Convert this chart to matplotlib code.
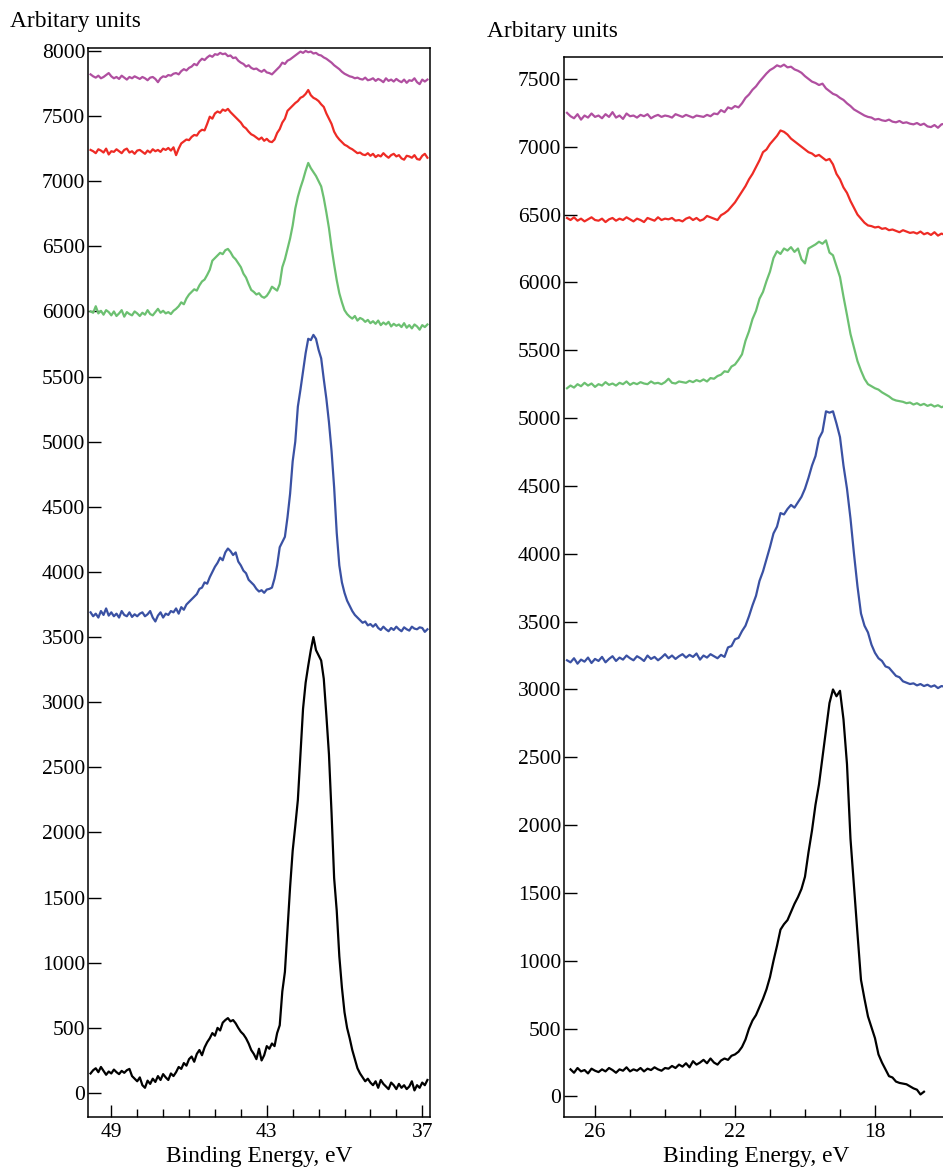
#!/usr/bin/env python
"""
XPS valence-band spectra, two energy windows, stacked samples.
"""

import numpy as np
import matplotlib.pyplot as plt

plt.rcParams["font.family"] = ["Liberation Serif", "DejaVu Serif"]
plt.rcParams["font.size"] = 15.5
label_size = 16.8

# colours of the stacked spectra (top to bottom)
colors = {"magenta": "#b04fa0", "red": "#ee2b25", "green": "#6cc071",
          "blue": "#3a51a3", "black": "#000000"}

# ---- left window: 49.8 .. 36.8 eV, step 0.1 eV ----
energy_left = np.round(np.linspace(49.8, 36.8, 131), 2)

magenta_left = [
    7820, 7805, 7795, 7810, 7790, 7800, 7815, 7830, 7805,
    7790, 7800, 7785, 7810, 7795, 7780, 7800, 7790, 7805, 7795,
    7785, 7800, 7790, 7775, 7795, 7800, 7785, 7760, 7790, 7805,
    7800, 7815, 7810, 7825, 7830, 7820, 7845, 7860, 7850, 7870,
    7880, 7900, 7890, 7920, 7940, 7930, 7950, 7965, 7955, 7975,
    7970, 7985, 7975, 7980, 7960, 7965, 7945, 7950, 7925, 7910,
    7900, 7880, 7890, 7870, 7860, 7865, 7850, 7840, 7855, 7835,
    7830, 7820, 7840, 7860, 7880, 7910, 7900, 7925, 7935, 7950,
    7965, 7980, 7995, 7985, 8000, 7990, 7995, 7980, 7985, 7970,
    7965, 7950, 7940, 7925, 7910, 7890, 7875, 7860, 7840, 7825,
    7815, 7805, 7800, 7790, 7795, 7785, 7780, 7795, 7775, 7780,
    7790, 7770, 7785, 7775, 7760, 7790, 7770, 7780, 7765, 7785,
    7770, 7760, 7780, 7755, 7775, 7770, 7790, 7760, 7745, 7780,
    7765, 7780]

red_left = [
    7240, 7230, 7215, 7245, 7235, 7220, 7250, 7205, 7230,
    7225, 7245, 7230, 7215, 7240, 7250, 7220, 7230, 7210, 7235,
    7240, 7225, 7210, 7235, 7220, 7245, 7230, 7240, 7225, 7250,
    7240, 7255, 7235, 7260, 7200, 7250, 7290, 7305, 7320, 7315,
    7340, 7355, 7350, 7380, 7395, 7390, 7440, 7495, 7480, 7520,
    7535, 7525, 7550, 7540, 7555, 7530, 7510, 7490, 7470, 7450,
    7420, 7405, 7380, 7360, 7350, 7335, 7320, 7335, 7310, 7325,
    7305, 7300, 7320, 7370, 7400, 7450, 7480, 7540, 7560, 7580,
    7600, 7615, 7640, 7650, 7670, 7700, 7660, 7640, 7630, 7615,
    7590, 7570, 7520, 7480, 7440, 7380, 7345, 7320, 7300, 7280,
    7270, 7255, 7245, 7230, 7215, 7220, 7205, 7200, 7215, 7195,
    7210, 7185, 7200, 7190, 7215, 7195, 7180, 7200, 7210, 7190,
    7200, 7175, 7165, 7195, 7190, 7180, 7200, 7170, 7165, 7195,
    7210, 7180]

green_left = [
    6000, 5990, 6040, 5985, 6005, 5975, 6010, 5995, 5970,
    6000, 5965, 5985, 6010, 5960, 5995, 5980, 5970, 6000, 5985,
    5965, 5990, 5975, 6010, 5980, 5970, 5995, 6020, 5990, 6005,
    5985, 5995, 5980, 6005, 6020, 6040, 6070, 6055, 6100, 6130,
    6150, 6170, 6160, 6200, 6230, 6245, 6280, 6320, 6390, 6410,
    6430, 6450, 6440, 6470, 6480, 6455, 6420, 6400, 6370, 6340,
    6290, 6260, 6210, 6165, 6150, 6130, 6140, 6115, 6105, 6120,
    6150, 6190, 6175, 6160, 6210, 6340, 6400, 6480, 6560, 6660,
    6790, 6880, 6950, 7010, 7080, 7140, 7100, 7070, 7040, 7000,
    6960, 6870, 6760, 6640, 6490, 6360, 6240, 6140, 6070, 6010,
    5980, 5960, 5945, 5965, 5930, 5950, 5940, 5920, 5935, 5910,
    5925, 5905, 5930, 5895, 5915, 5900, 5920, 5885, 5905, 5890,
    5900, 5880, 5910, 5875, 5895, 5870, 5900, 5885, 5860, 5895,
    5880, 5900]

blue_left = [
    3690, 3660, 3680, 3650, 3700, 3670, 3720, 3665, 3690,
    3660, 3680, 3650, 3700, 3670, 3660, 3690, 3655, 3675, 3660,
    3680, 3690, 3660, 3675, 3700, 3650, 3620, 3665, 3690, 3650,
    3680, 3670, 3700, 3690, 3720, 3680, 3730, 3710, 3750, 3770,
    3790, 3810, 3830, 3870, 3880, 3920, 3910, 3960, 4000, 4040,
    4070, 4110, 4090, 4150, 4180, 4160, 4130, 4150, 4080, 4050,
    4010, 3990, 3940, 3920, 3900, 3870, 3850, 3860, 3840, 3865,
    3870, 3880, 3950, 4050, 4190, 4230, 4270, 4420, 4600, 4850,
    5000, 5270, 5400, 5540, 5680, 5790, 5780, 5820, 5790, 5705,
    5640, 5480, 5330, 5150, 4930, 4650, 4300, 4050, 3920, 3840,
    3780, 3740, 3700, 3670, 3650, 3630, 3610, 3620, 3590, 3600,
    3580, 3600, 3570, 3555, 3580, 3560, 3545, 3570, 3555, 3580,
    3560, 3545, 3575, 3560, 3550, 3580, 3565, 3560, 3575, 3570,
    3540, 3560]

black_left = [
    150, 175, 190, 160, 200, 170, 140, 165, 150,
    180, 160, 145, 170, 155, 175, 185, 130, 110, 90,
    120, 60, 40, 95, 70, 110, 85, 130, 100, 145,
    120, 100, 150, 130, 160, 200, 185, 230, 210, 260,
    280, 240, 300, 330, 290, 350, 390, 420, 460, 440,
    500, 480, 540, 560, 575, 550, 560, 535, 500, 470,
    450, 420, 380, 330, 300, 260, 340, 250, 290, 360,
    340, 380, 360, 460, 520, 780, 930, 1250, 1580, 1860,
    2050, 2250, 2600, 2950, 3150, 3280, 3400, 3500, 3400, 3360,
    3320, 3180, 2900, 2600, 2150, 1650, 1400, 1050, 810, 620,
    500, 420, 330, 260, 190, 150, 120, 90, 110, 80,
    60, 90, 40, 100, 70, 50, 30, 80, 60, 30,
    70, 40, 60, 30, 50, 90, 20, 60, 40, 80,
    60, 100]

# ---- right window: 26.8 .. 16.0 eV, step 0.1 eV ----
energy_right = np.round(np.linspace(26.8, 16.0, 109), 2)

magenta_right = [
    7250, 7225, 7210, 7240, 7200, 7230, 7215, 7245, 7220,
    7230, 7210, 7240, 7220, 7255, 7215, 7230, 7205, 7245, 7225,
    7230, 7215, 7235, 7225, 7240, 7210, 7225, 7235, 7220, 7230,
    7225, 7215, 7240, 7230, 7220, 7235, 7225, 7215, 7230, 7225,
    7220, 7235, 7225, 7245, 7240, 7270, 7255, 7290, 7280, 7300,
    7290, 7320, 7360, 7385, 7420, 7445, 7480, 7510, 7540, 7565,
    7580, 7600, 7590, 7605, 7585, 7590, 7570, 7560, 7545, 7520,
    7500, 7480, 7470, 7455, 7465, 7430, 7410, 7390, 7380, 7360,
    7345, 7320, 7300, 7275, 7260, 7245, 7230, 7220, 7215, 7200,
    7205, 7195, 7190, 7200, 7185, 7180, 7190, 7175, 7180, 7170,
    7165, 7175, 7160, 7170, 7150, 7145, 7160, 7140, 7165, 7170]

red_right = [
    6475, 6460, 6480, 6455, 6470, 6450, 6465, 6480, 6460,
    6455, 6470, 6445, 6465, 6475, 6455, 6470, 6460, 6480, 6465,
    6450, 6470, 6460, 6445, 6475, 6465, 6455, 6480, 6460, 6470,
    6465, 6475, 6455, 6460, 6450, 6470, 6480, 6460, 6475, 6455,
    6465, 6490, 6480, 6470, 6460, 6495, 6510, 6530, 6560, 6590,
    6630, 6670, 6710, 6760, 6800, 6850, 6900, 6960, 6980, 7020,
    7050, 7080, 7120, 7110, 7090, 7060, 7040, 7020, 7000, 6980,
    6960, 6950, 6930, 6940, 6920, 6900, 6910, 6870, 6800, 6760,
    6700, 6660, 6600, 6550, 6500, 6470, 6440, 6420, 6415, 6405,
    6410, 6395, 6400, 6385, 6390, 6380, 6370, 6385, 6375, 6365,
    6370, 6360, 6375, 6355, 6365, 6350, 6370, 6345, 6360, 6350]

green_right = [
    5220, 5240, 5225, 5250, 5235, 5260, 5240, 5255, 5230,
    5250, 5240, 5265, 5245, 5255, 5240, 5260, 5250, 5270, 5245,
    5260, 5250, 5265, 5255, 5250, 5270, 5255, 5260, 5250, 5265,
    5290, 5260, 5255, 5270, 5265, 5260, 5275, 5265, 5280, 5270,
    5285, 5270, 5295, 5290, 5310, 5320, 5345, 5340, 5380, 5395,
    5430, 5470, 5570, 5640, 5730, 5790, 5880, 5930, 6010, 6080,
    6180, 6230, 6210, 6250, 6235, 6260, 6225, 6250, 6170, 6140,
    6250, 6265, 6280, 6300, 6285, 6310, 6220, 6200, 6120, 6040,
    5895, 5760, 5620, 5520, 5420, 5350, 5290, 5250, 5235, 5220,
    5210, 5190, 5175, 5160, 5140, 5130, 5125, 5120, 5110, 5115,
    5100, 5110, 5095, 5105, 5090, 5100, 5085, 5095, 5080, 5090]

blue_right = [
    3215, 3200, 3230, 3190, 3220, 3205, 3235, 3195, 3225,
    3210, 3240, 3200, 3225, 3245, 3210, 3235, 3220, 3250, 3230,
    3215, 3245, 3230, 3210, 3250, 3225, 3240, 3215, 3235, 3260,
    3230, 3250, 3225, 3245, 3260, 3235, 3255, 3240, 3265, 3220,
    3250, 3235, 3260, 3245, 3230, 3255, 3240, 3310, 3320, 3370,
    3380, 3430, 3470, 3540, 3620, 3690, 3800, 3870, 3960, 4050,
    4150, 4200, 4300, 4290, 4330, 4360, 4340, 4380, 4420, 4480,
    4560, 4650, 4720, 4850, 4900, 5050, 5040, 5050, 4960, 4860,
    4650, 4480, 4260, 4000, 3760, 3560, 3470, 3420, 3330, 3270,
    3230, 3210, 3170, 3160, 3130, 3100, 3090, 3060, 3050, 3040,
    3045, 3030, 3040, 3025, 3035, 3020, 3030, 3010, 3025, 3020]

# black spectrum stops early: 26.7 .. 16.6 eV
energy_right_black = np.round(np.linspace(26.7, 16.6, 102), 2)
black_right = [
    200, 175, 210, 185, 195, 170, 205, 190,
    180, 200, 185, 210, 195, 175, 200, 190, 215, 185,
    200, 190, 210, 185, 205, 195, 215, 200, 190, 210,
    205, 225, 210, 235, 220, 245, 215, 260, 235, 250,
    270, 245, 280, 250, 235, 265, 280, 270, 300, 310,
    330, 365, 420, 500, 560, 600, 660, 720, 790, 880,
    1000, 1110, 1230, 1270, 1300, 1360, 1420, 1470, 1530, 1620,
    1800, 1960, 2150, 2300, 2500, 2700, 2900, 3000, 2950, 2990,
    2780, 2450, 1900, 1550, 1200, 860, 720, 590, 510, 430,
    310, 250, 200, 150, 140, 110, 100, 95, 90, 75,
    60, 50, 15, 35]


def style_axes(ax, major, minor, xlim, ylim):
    ax.xaxis.set_ticks(major)
    ax.xaxis.set_ticks(minor, minor=True)
    ax.yaxis.set_ticks(np.arange(0, 8001, 500))
    # set_ticks may widen the view, so the limits go last
    ax.set_xlim(*xlim)
    ax.set_ylim(*ylim)
    ax.tick_params(axis="x", which="major", direction="in", length=9,
                   width=1.0, pad=4, top=False)
    ax.tick_params(axis="x", which="minor", direction="in", length=6,
                   width=1.0, top=False)
    ax.tick_params(axis="y", which="major", direction="in", length=9,
                   width=1.0, pad=2, right=False)
    for s in ax.spines.values():
        s.set_linewidth(1.1)
    ax.set_xlabel("Binding Energy, eV", labelpad=3, fontsize=label_size)


fig = plt.figure(figsize=(9.43, 11.69), dpi=100)
lw = 1.6

# left window
ax1 = fig.add_axes([0.0933, 0.0445, 0.3627, 0.9145])
ax1.plot(energy_left, magenta_left, color=colors["magenta"], lw=lw)
ax1.plot(energy_left, red_left, color=colors["red"], lw=lw)
ax1.plot(energy_left, green_left, color=colors["green"], lw=lw)
ax1.plot(energy_left, blue_left, color=colors["blue"], lw=lw)
ax1.plot(energy_left, black_left, color=colors["black"], lw=lw)
style_axes(ax1, [49, 43, 37], np.arange(37, 50, 1),
           (49.9, 36.7), (-184, 8023))

# right window (runs off the right edge of the figure)
ax2 = fig.add_axes([0.5981, 0.0445, 0.4077, 0.9068])
ax2.plot(energy_right, magenta_right, color=colors["magenta"], lw=lw)
ax2.plot(energy_right, red_right, color=colors["red"], lw=lw)
ax2.plot(energy_right, green_right, color=colors["green"], lw=lw)
ax2.plot(energy_right, blue_right, color=colors["blue"], lw=lw)
ax2.plot(energy_right_black, black_right, color=colors["black"], lw=lw)
style_axes(ax2, [26, 22, 18], np.arange(16, 27, 1),
           (26.886, 15.9), (-151, 7662))

fig.text(10 / 943, 1 - 22 / 1169, "Arbitary units", ha="left", va="center",
         fontsize=label_size)
fig.text(487 / 943, 1 - 32 / 1169, "Arbitary units", ha="left", va="center",
         fontsize=label_size)

fig.savefig("out.png", dpi=100)
